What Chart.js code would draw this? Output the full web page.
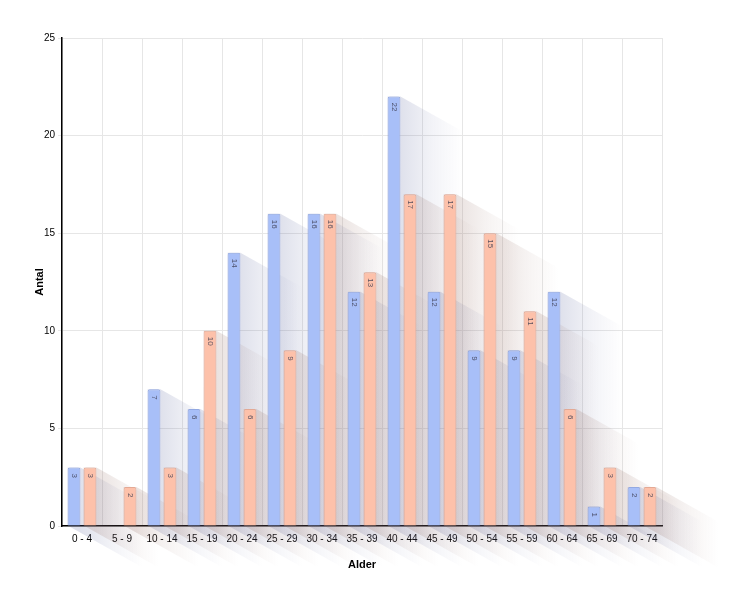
<!DOCTYPE html>
<html>
<head>
<meta charset="utf-8">
<script src="https://cdn.jsdelivr.net/npm/chart.js@4"></script>
<style>
  html, body { margin: 0; padding: 0; background: #fff; }
  #wrap { width: 730px; height: 601px; }
</style>
</head>
<body>
<div id="wrap"><canvas id="chart"></canvas></div>
<script>
// les donnees
let categories = ['0 - 4', '5 - 9', '10 - 14', '15 - 19', '20 - 24', '25 - 29', '30 - 34', '35 - 39',
  '40 - 44', '45 - 49', '50 - 54', '55 - 59', '60 - 64', '65 - 69', '70 - 74'];
let serieBleue = [3, null, 7, 6, 14, 16, 16, 12, 22, 12, 9, 9, 12, 1, 2];
let serieOrange = [3, 2, 3, 10, 6, 9, 16, 13, 17, 17, 15, 11, 6, 3, 2];
let yTicks = [0, 5, 10, 15, 20, 25];

// ombre longue derriere chaque barre
let longShadow = {
  id: 'longShadow',
  beforeDatasetsDraw(chart) {
    const ctx = chart.ctx;
    const dx = 100, dy = 56;
    const tints = ['95,105,160', '150,110,100'];
    chart.data.datasets.forEach((ds, di) => {
      const meta = chart.getDatasetMeta(di);
      meta.data.forEach((bar, i) => {
        if (ds.data[i] == null) return;
        const p = bar.getProps(['x', 'y', 'base', 'width'], true);
        const x1 = p.x - p.width / 2, x2 = p.x + p.width / 2;
        const yt = p.y, yb = p.base;
        const g = ctx.createLinearGradient(x2, 0, x2 + 62, 0);
        g.addColorStop(0, 'rgba(' + tints[di] + ',0.20)');
        g.addColorStop(0.45, 'rgba(' + tints[di] + ',0.09)');
        g.addColorStop(1, 'rgba(' + tints[di] + ',0)');
        ctx.save();
        ctx.fillStyle = g;
        ctx.beginPath();
        ctx.moveTo(x1, yt);
        ctx.lineTo(x2, yt);
        ctx.lineTo(x2 + dx, yt + dy);
        ctx.lineTo(x2 + dx, yb + dy);
        ctx.lineTo(x1 + dx, yb + dy);
        ctx.lineTo(x1, yb);
        ctx.closePath();
        ctx.fill();
        ctx.restore();
      });
    });
  }
};

// etiquettes verticales dans les barres
let barLabels = {
  id: 'barLabels',
  afterDatasetsDraw(chart) {
    const ctx = chart.ctx;
    chart.data.datasets.forEach((ds, di) => {
      const meta = chart.getDatasetMeta(di);
      meta.data.forEach((bar, i) => {
        const v = ds.data[i];
        if (v == null) return;
        ctx.save();
        ctx.translate(bar.x, bar.y + 6);
        ctx.rotate(Math.PI / 2);
        ctx.font = '8px "Liberation Sans", Arial, sans-serif';
        ctx.fillStyle = 'rgba(60,60,80,0.85)';
        ctx.textAlign = 'left';
        ctx.textBaseline = 'middle';
        ctx.fillText(String(v), 0, 0);
        ctx.restore();
      });
    });
  }
};

Chart.defaults.font.family = '"Liberation Sans", Arial, sans-serif';
Chart.defaults.color = '#000';

let chart = new Chart(document.getElementById('chart'), {
  type: 'bar',
  data: {
    labels: categories,
    datasets: [{
      data: serieBleue,
      backgroundColor: '#a8bff8',
      borderColor: '#93a9e2',
      borderWidth: 1,
      borderRadius: { topLeft: 2, topRight: 2 },
      borderSkipped: 'bottom',
      categoryPercentage: 0.8,
      barPercentage: 0.8
    }, {
      data: serieOrange,
      backgroundColor: '#fdc1aa',
      borderColor: '#e4a994',
      borderWidth: 1,
      borderRadius: { topLeft: 2, topRight: 2 },
      borderSkipped: 'bottom',
      categoryPercentage: 0.8,
      barPercentage: 0.8
    }]
  },
  options: {
    responsive: true,
    maintainAspectRatio: false,
    animation: false,
    layout: { padding: { left: 33, right: 68, top: 38, bottom: 25 } },
    plugins: {
      legend: { display: false },
      tooltip: { enabled: false }
    },
    scales: {
      x: {
        grid: { color: '#e6e6e6', offset: true, drawTicks: false },
        border: { color: '#000', width: 1.5 },
        ticks: { font: { size: 10 }, padding: 7, maxRotation: 0 },
        title: { display: true, text: 'Alder', font: { size: 11, weight: 'bold' }, padding: { top: 12 } },
        afterFit: function(scale) { scale.height = 50; }
      },
      y: {
        min: 0,
        max: 25,
        afterBuildTicks: function(scale) { scale.ticks = yTicks.map(v => ({ value: v })); },
        grid: { color: '#e6e6e6', tickLength: 4 },
        border: { color: '#000', width: 1.5 },
        ticks: { font: { size: 10 }, padding: 3 },
        title: { display: true, text: 'Antal', font: { size: 11, weight: 'bold' }, padding: { top: 0, bottom: 0 } },
        afterFit: function(scale) { scale.width = 29; }
      }
    }
  },
  plugins: [longShadow, barLabels]
});
</script>
</body>
</html>
